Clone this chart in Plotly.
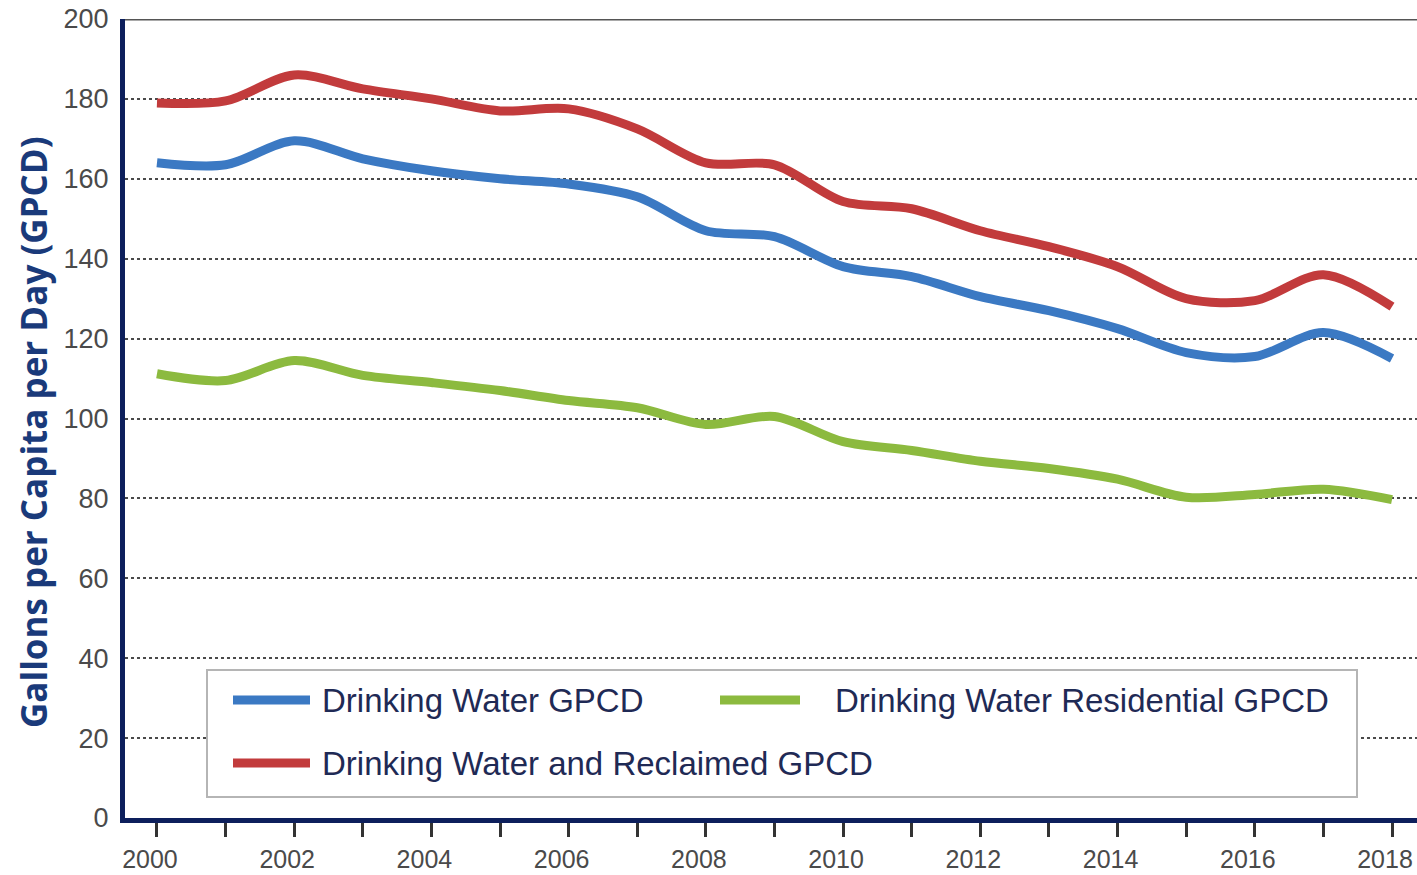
import plotly.graph_objects as go

years = list(range(2000, 2019))
drinking_water = [164, 163.5, 169.5, 165, 162, 160, 158.7, 155.5, 147, 145.5, 138, 135.5, 130.5, 127, 122.5, 116.5, 115.5, 121.5, 115]
residential = [111.2, 109.5, 114.5, 110.8, 109, 107, 104.5, 102.7, 98.5, 100.5, 94.2, 92, 89.3, 87.5, 84.8, 80.3, 81, 82.3, 79.7]
reclaimed = [179, 179.5, 186, 182.5, 180, 177, 177.5, 172.5, 164, 163.5, 154.3, 152.5, 147, 143, 138, 130, 129.5, 136, 128]

series_names = ["Drinking Water GPCD", "Drinking Water Residential GPCD", "Drinking Water and Reclaimed GPCD"]
colors = ["#3b79c3", "#8cba3f", "#c23b3c"]
y_title = "<b>Gallons per Capita per Day (GPCD)</b>"

x_tick_vals = years
x_tick_text = [str(y) if y % 2 == 0 else "" for y in years]
y_tick_vals = list(range(0, 201, 20))

fig = go.Figure()
for name, vals, c in zip(series_names, [drinking_water, residential, reclaimed], colors):
    fig.add_trace(go.Scatter(
        x=years, y=vals, name=name, mode="lines",
        line=dict(color=c, width=9, shape="spline", smoothing=0.9),
        showlegend=False,
    ))

navy = "#0d1f5c"

W, H = 1417, 875
L, R, T, B = 125, 0, 19, 57
pw, ph = W - L - R, H - T - B


def px(xi):  # window x pixel -> paper x
    return (xi - L) / pw


def py(yi):  # window y pixel -> paper y
    return (H - B - yi) / ph


legend_items = [
    (0, 233, 310, 700, 320),
    (1, 720, 800, 700, 833),
    (2, 233, 310, 763, 320),
]
shapes = [
    dict(type="line", xref="paper", yref="y", x0=0, x1=1, y0=200, y1=200,
         line=dict(color="#555555", width=3), layer="below"),
    dict(type="rect", xref="paper", yref="paper", x0=px(207), x1=px(1357), y0=py(797), y1=py(670),
         line=dict(color="#b5b5b5", width=2), fillcolor="white", layer="above"),
]
annotations = []
for idx, lx0, lx1, ly, tx in legend_items:
    shapes.append(dict(type="line", xref="paper", yref="paper", x0=px(lx0), x1=px(lx1), y0=py(ly), y1=py(ly),
                       line=dict(color=colors[idx], width=9), layer="above"))
    annotations.append(dict(xref="paper", yref="paper", x=px(tx), y=py(ly), xanchor="left", yanchor="middle",
                            text=series_names[idx], showarrow=False,
                            font=dict(size=33, color="#1f2a55", family="Liberation Sans, Arial, sans-serif")))

annotations.append(dict(xref="paper", yref="paper", x=px(33), y=py(432), xanchor="center", yanchor="middle",
                        text=y_title, textangle=-90, showarrow=False,
                        font=dict(size=35, color="#1a3a7a", family="Open Sans, sans-serif")))

fig.update_layout(
    width=W, height=H,
    margin=dict(l=L, r=R, t=T, b=B, autoexpand=False),
    paper_bgcolor="white", plot_bgcolor="white",
    font=dict(family="Liberation Sans, Arial, sans-serif"),
    showlegend=False,
    xaxis=dict(
        range=[1999.534, 2018.364],
        tickmode="array", tickvals=x_tick_vals, ticktext=x_tick_text,
        ticks="outside", ticklen=14, tickwidth=3, tickcolor="#333333",
        tickfont=dict(size=25, color="#4a4a4a"),
        showline=True, linecolor=navy, linewidth=5,
        showgrid=False, zeroline=False,
        ticklabelstandoff=1, ticklabelshift=-7,
        ticklabeloverflow="allow",
        automargin=False,
    ),
    yaxis=dict(
        range=[0, 200],
        tickmode="array", tickvals=y_tick_vals,
        tickfont=dict(size=27, color="#4a4a4a"),
        showline=True, linecolor=navy, linewidth=5,
        showgrid=True, gridcolor="#4a4a4a", gridwidth=2, griddash="dot",
        zeroline=False,
        ticklabelstandoff=6,
        ticklabeloverflow="allow",
        automargin=False,
    ),
    shapes=shapes,
    annotations=annotations,
)

fig.write_html("out.html", config={"displayModeBar": False},
               post_script="document.body.style.margin='0';")
